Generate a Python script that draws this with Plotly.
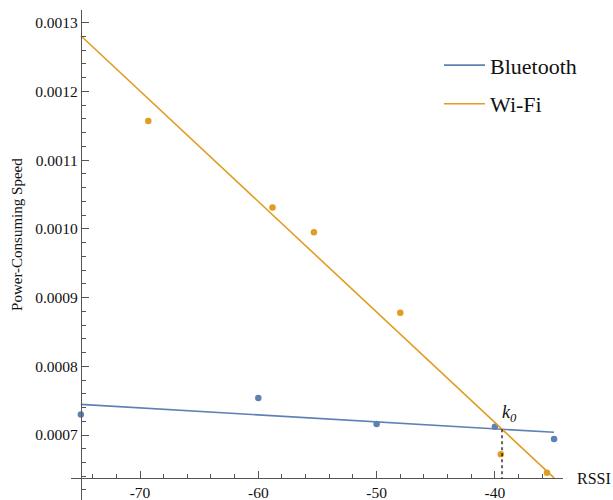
import numpy as np
import plotly.graph_objects as go

# ---- data ----
bt_rssi = [-75.0, -60.0, -50.0, -40.0, -35.0]
bt_speed = [0.000730, 0.000754, 0.000716, 0.000712, 0.000694]
wifi_rssi = [-69.3, -58.8, -55.3, -48.0, -39.5, -35.6]
wifi_speed = [0.001157, 0.001031, 0.000995, 0.000878, 0.000672, 0.000645]

fit_range = [-75.0, -35.0]
x_major = [-70, -60, -50, -40]
x_major_text = ["-70", "-60", "-50", "-40"]
y_major = [0.0007, 0.0008, 0.0009, 0.0010, 0.0011, 0.0012, 0.0013]
y_major_text = ["0.0007", "0.0008", "0.0009", "0.0010", "0.0011", "0.0012", "0.0013"]

BLUE = "#5E81B5"
ORANGE = "#E19C24"
FONT = "Liberation Serif"
AXIS = "#555555"
TEXT = "#111111"

# linear fits
bt_m, bt_b = np.polyfit(bt_rssi, bt_speed, 1)
wf_m, wf_b = np.polyfit(wifi_rssi, wifi_speed, 1)
fx = np.array(fit_range)
k0 = (bt_b - wf_b) / (wf_m - bt_m)
k0_y = bt_m * k0 + bt_b

x_range = [-75.833, -34.244]
y_range = [0.0006054, 0.0013185]
x_cross = -75.0
y_cross = 0.0006367

fig = go.Figure()
fig.add_trace(go.Scatter(x=bt_rssi, y=bt_speed, mode="markers",
                         marker=dict(color=BLUE, size=6.5), showlegend=False,
                         name="Bluetooth data"))
fig.add_trace(go.Scatter(x=wifi_rssi, y=wifi_speed, mode="markers",
                         marker=dict(color=ORANGE, size=6.5), showlegend=False,
                         name="Wi-Fi data"))
fig.add_trace(go.Scatter(x=fx, y=bt_m * fx + bt_b, mode="lines",
                         line=dict(color=BLUE, width=1.6), name="Bluetooth",
                         legendgroup="a"))
fig.add_trace(go.Scatter(x=fx, y=wf_m * fx + wf_b, mode="lines",
                         line=dict(color=ORANGE, width=1.6), name="Wi-Fi",
                         legendgroup="b"))

# dashed marker at the crossing point
fig.add_shape(type="line", x0=k0, x1=k0, y0=k0_y, y1=y_cross,
              line=dict(color="black", width=1.2, dash="3px,3px"))
fig.add_annotation(x=k0, y=k0_y, text="<i>k<sub>0</sub></i>", showarrow=False,
                   xanchor="left", yanchor="bottom", xshift=-2, yshift=2,
                   font=dict(family=FONT, size=18, color=TEXT))

# axis labels
fig.add_annotation(xref="paper", yref="paper", x=1.0, y=(y_cross - y_range[0]) / (y_range[1] - y_range[0]),
                   text="RSSI", showarrow=False, xanchor="left", yanchor="middle", xshift=12,
                   font=dict(family=FONT, size=16, color=TEXT))
fig.add_annotation(xref="paper", yref="paper", x=0, y=0.541, xshift=-54,
                   text="Power-Consuming Speed", showarrow=False, textangle=-90,
                   xanchor="center", yanchor="middle",
                   font=dict(family=FONT, size=15, color=TEXT))

fig.update_layout(
    width=613, height=500,
    margin=dict(l=71, r=50, t=10, b=0, autoexpand=False),
    paper_bgcolor="white", plot_bgcolor="white",
    font=dict(family=FONT, size=15, color=TEXT),
    showlegend=True,
    legend=dict(x=0.748, y=0.93, xanchor="left", yanchor="top",
                bgcolor="rgba(0,0,0,0)", font=dict(family=FONT, size=22, color=TEXT),
                traceorder="grouped", tracegroupgap=7, itemwidth=41),
    xaxis=dict(range=x_range, anchor="free", position=(y_cross - y_range[0]) / (y_range[1] - y_range[0]),
               automargin=False,
               showline=True, linecolor=AXIS, linewidth=1, showgrid=False, zeroline=False,
               tickmode="array", tickvals=x_major, ticktext=x_major_text,
               ticks="inside", ticklen=7, tickcolor=AXIS, tickwidth=1,
               minor=dict(tickmode="linear", tick0=-74, dtick=2, ticks="inside", ticklen=4,
                          tickcolor=AXIS, showgrid=False),
               tickfont=dict(family=FONT, size=15.5, color=TEXT)),
    yaxis=dict(range=y_range, anchor="free", position=(x_cross - x_range[0]) / (x_range[1] - x_range[0]),
               automargin=False,
               showline=True, linecolor=AXIS, linewidth=1, showgrid=False, zeroline=False,
               tickmode="array", tickvals=y_major, ticktext=y_major_text,
               ticks="inside", ticklen=7, tickcolor=AXIS, tickwidth=1,
               minor=dict(tickmode="linear", tick0=0.0007, dtick=0.00002, ticks="inside", ticklen=4,
                          tickcolor=AXIS, showgrid=False),
               tickfont=dict(family=FONT, size=15.5, color=TEXT)),
)

fig.write_html("out.html", config={"displayModeBar": False},
               post_script="document.body.style.margin='0';document.body.style.padding='0';")
